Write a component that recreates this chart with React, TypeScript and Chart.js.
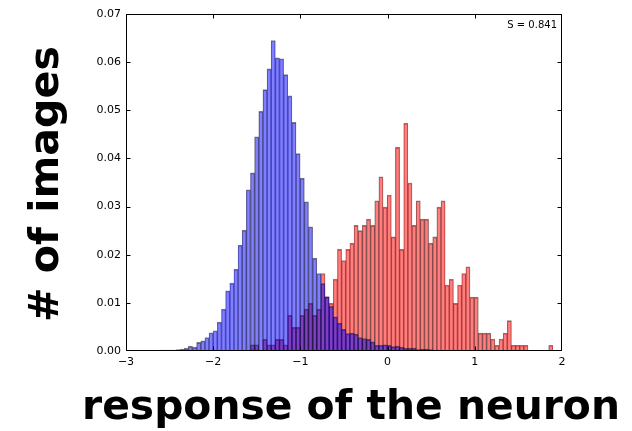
import React, { useEffect, useRef } from 'react';
import { Chart, registerables } from 'chart.js';

Chart.register(...registerables);

// Histogram bin grid shared by both series
const binStart = -2.8075;
const binWidth = 0.0475;

// Normalised histogram heights per bin (blue series)
const blueDensity = [
  0.0001, 0.0001, 0.0001, 0.0001, 0.0002, 0.0002, 0.0002, 0.0002, 0.0003, 0.0004,
  0.0006, 0.001, 0.0008, 0.0018, 0.0021, 0.0028, 0.0038, 0.0042, 0.006, 0.0087,
  0.0125, 0.0141, 0.017, 0.022, 0.0251, 0.0335, 0.037, 0.0445, 0.0498, 0.0543,
  0.0586, 0.0645, 0.0609, 0.0607, 0.0574, 0.053, 0.0475, 0.041, 0.0359, 0.031,
  0.0258, 0.0193, 0.0161, 0.014, 0.0113, 0.0093, 0.0071, 0.0058, 0.0045, 0.0036,
  0.0037, 0.0035, 0.0028, 0.0026, 0.0024, 0.0019, 0.0012, 0.0012, 0.0013, 0.0012,
  0.0009, 0.001, 0.0008, 0.0006, 0.0006, 0.0006, 0.0003, 0.0004, 0.0004, 0.0003,
  0.0002, 0.0002, 0.0002, 0.0001, 0.0001, 0.0002, 0.0001, 0.0002, 0.0001, 0.0001,
  0.0001, 0, 0, 0, 0, 0, 0, 0, 0, 0,
  0, 0, 0, 0, 0, 0, 0, 0, 0,
];

// Normalised histogram heights per bin (red series)
const redDensity = [
  0, 0, 0, 0, 0, 0, 0, 0, 0, 0,
  0, 0, 0, 0, 0, 0, 0, 0, 0, 0,
  0, 0, 0, 0, 0, 0, 0.0013, 0.0013, 0, 0.0024,
  0.0013, 0.0013, 0.0024, 0.0024, 0.0013, 0.0074, 0.0049, 0.0049, 0.0074, 0.0087,
  0.0099, 0.0074, 0.0087, 0.0161, 0.0112, 0.0099, 0.0149, 0.0211, 0.0188, 0.0211,
  0.0224, 0.0261, 0.025, 0.0261, 0.0274, 0.0261, 0.0312, 0.0362, 0.0299, 0.0324,
  0.0237, 0.0423, 0.0211, 0.0473, 0.0349, 0.0261, 0.0312, 0.0274, 0.0274, 0.0224,
  0.0237, 0.0299, 0.0312, 0.0137, 0.0149, 0.0099, 0.0137, 0.0161, 0.0175, 0.0112,
  0.0112, 0.0037, 0.0037, 0.0037, 0.0025, 0.0012, 0.0025, 0.0037, 0.0063, 0.0012,
  0.0012, 0.0012, 0.0012, 0, 0, 0, 0, 0, 0.0012,
];

const xTickValues = [-3, -2, -1, 0, 1, 2];
const yTickValues = [0, 0.01, 0.02, 0.03, 0.04, 0.05, 0.06, 0.07];
const annotationText = 'S = 0.841';
const xTitle = 'response of the neuron';
const yTitle = '# of images';
const titleFamily = '"DejaVu Sans", sans-serif';

const toPoints = (vals: number[]) =>
  vals.map((v, i) => ({ x: binStart + binWidth * (i + 0.5), y: v }));

const fitFontSize = (ctx: CanvasRenderingContext2D, text: string, width: number) => {
  ctx.font = `bold 40px ${titleFamily}`;
  const w = ctx.measureText(text).width;
  return (40 * width) / w;
};

const decorPlugin = {
  id: 'decor',
  afterDraw(chart: any) {
    const { ctx, chartArea: a, scales } = chart;
    const xs = scales.x;
    const ys = scales.y;
    ctx.save();
    ctx.strokeStyle = '#000';
    ctx.lineWidth = 1;
    const L = Math.round(a.left) + 0.5;
    const R = Math.round(a.right) - 0.5;
    const T = Math.round(a.top) + 0.5;
    const B = Math.round(a.bottom) - 0.5;
    ctx.strokeRect(L, T, R - L, B - T);
    ctx.beginPath();
    xTickValues.forEach((v) => {
      const px = Math.min(R, Math.max(L, Math.round(xs.getPixelForValue(v)) + 0.5));
      ctx.moveTo(px, B);
      ctx.lineTo(px, B - 4);
      ctx.moveTo(px, T);
      ctx.lineTo(px, T + 4);
    });
    yTickValues.forEach((v) => {
      const py = Math.min(B, Math.max(T, Math.round(ys.getPixelForValue(v)) + 0.5));
      ctx.moveTo(L, py);
      ctx.lineTo(L + 4, py);
      ctx.moveTo(R, py);
      ctx.lineTo(R - 4, py);
    });
    ctx.stroke();

    ctx.fillStyle = '#000';
    ctx.font = '10px "DejaVu Sans"';
    ctx.textAlign = 'right';
    ctx.textBaseline = 'alphabetic';
    ctx.fillText(annotationText, a.right - 5, a.top + 14);

    const xs1 = fitFontSize(ctx, xTitle, 538);
    ctx.font = `bold ${xs1}px ${titleFamily}`;
    ctx.textAlign = 'center';
    ctx.fillText(xTitle, 351, 419);

    const ys1 = fitFontSize(ctx, yTitle, 276);
    ctx.font = `bold ${ys1}px ${titleFamily}`;
    ctx.save();
    ctx.translate(58, 184);
    ctx.rotate(-Math.PI / 2);
    ctx.fillText(yTitle, 0, 0);
    ctx.restore();
    ctx.restore();
  },
};

const barStyle = {
  borderColor: 'rgba(0,0,0,0.5)',
  borderWidth: { left: 0.5, right: 0.5, top: 1, bottom: 0 },
  borderSkipped: false,
  grouped: false,
  barPercentage: 1,
  categoryPercentage: 1,
};

export default function App() {
  const ref = useRef<HTMLCanvasElement | null>(null);
  useEffect(() => {
    if (!ref.current) return;
    const chart = new Chart(ref.current, {
      type: 'bar',
      data: {
        datasets: [
          {
            label: 'blue',
            data: toPoints(blueDensity),
            backgroundColor: 'rgba(0,0,255,0.5)',
            ...barStyle,
          },
          {
            label: 'red',
            data: toPoints(redDensity),
            backgroundColor: 'rgba(255,0,0,0.5)',
            ...barStyle,
          },
        ] as any,
      },
      options: {
        responsive: false,
        animation: false,
        devicePixelRatio: 1,
        layout: { padding: { top: 14, right: 70, left: 0, bottom: 0 } },
        plugins: { legend: { display: false }, tooltip: { enabled: false } },
        scales: {
          x: {
            type: 'linear',
            min: -3,
            max: 2,
            offset: false,
            grid: { display: false, drawTicks: false },
            border: { display: false },
            afterFit: (s: any) => { s.height = 80; },
            afterBuildTicks: (s: any) => { s.ticks = xTickValues.map((v) => ({ value: v })); },
            ticks: {
              padding: 5,
              color: '#000',
              font: { family: 'DejaVu Sans', size: 11 },
              maxRotation: 0,
              autoSkip: false,
              callback: (v: any) => (Number(v) < 0 ? '\u2212' + Math.abs(Number(v)) : String(v)),
            },
          },
          y: {
            type: 'linear',
            min: 0,
            max: 0.07,
            grid: { display: false, drawTicks: false },
            border: { display: false },
            afterFit: (s: any) => { s.width = 126; },
            afterBuildTicks: (s: any) => { s.ticks = yTickValues.map((v) => ({ value: v })); },
            ticks: {
              padding: 5,
              color: '#000',
              font: { family: 'DejaVu Sans', size: 11 },
              callback: (v: any) => Number(v).toFixed(2),
            },
          },
        },
      } as any,
      plugins: [decorPlugin],
    });
    return () => chart.destroy();
  }, []);
  return (
    <div style={{ position: 'fixed', left: 0, top: 0, width: 632, height: 431, background: '#fff' }}>
      <canvas ref={ref} width={632} height={431} />
    </div>
  );
}
